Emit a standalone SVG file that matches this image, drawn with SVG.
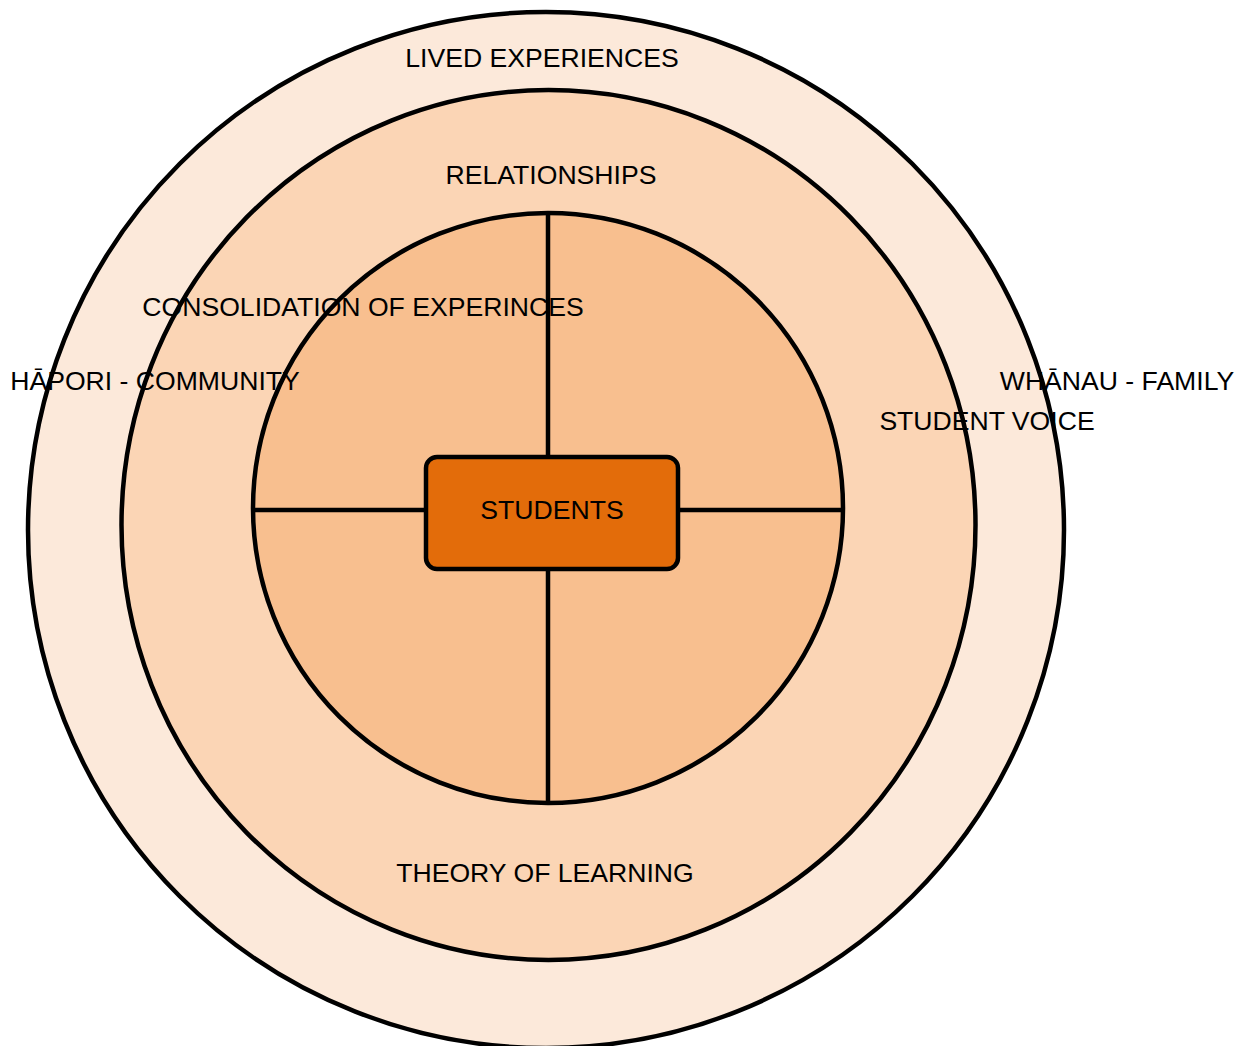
<svg xmlns="http://www.w3.org/2000/svg" width="1250" height="1046" viewBox="0 0 1250 1046">
<style>
.ring{stroke:#000;stroke-width:4.5}
.ln{stroke:#000;stroke-width:4.5;fill:none}
text{font-family:"Liberation Sans",Arial,sans-serif;font-size:26.6px;fill:#000;text-anchor:middle}
</style>
<rect width="1250" height="1046" fill="#fff"/>
<g id="outer"><ellipse class="ring" cx="546" cy="530" rx="518" ry="518" fill="#FCE9DA"/></g>
<g id="middle"><ellipse class="ring" cx="548.5" cy="525" rx="427" ry="435" fill="#FBD5B5"/></g>
<g id="inner"><circle class="ring" cx="548" cy="508" r="295" fill="#F8BF8F"/></g>
<g id="connectors">
<line class="ln" x1="548" y1="213" x2="548" y2="458"/>
<line class="ln" x1="548" y1="568" x2="548" y2="803"/>
<line class="ln" x1="253" y1="510" x2="427" y2="510"/>
<line class="ln" x1="677" y1="510" x2="843" y2="510"/>
</g>
<g id="students"><rect x="426" y="457" width="252" height="112" rx="11" fill="#E36C0A" stroke="#000" stroke-width="4.5"/><text x="552" y="519">STUDENTS</text></g>
<g id="labels">
<text x="542" y="67">LIVED EXPERIENCES</text>
<text x="551" y="184">RELATIONSHIPS</text>
<text x="363" y="316">CONSOLIDATION OF EXPERINCES</text>
<text x="155" y="390">HĀPORI - COMMUNITY</text>
<text x="1117" y="390">WHĀNAU - FAMILY</text>
<text x="987" y="430">STUDENT VOICE</text>
<text x="545" y="882">THEORY OF LEARNING</text>
</g>
</svg>
